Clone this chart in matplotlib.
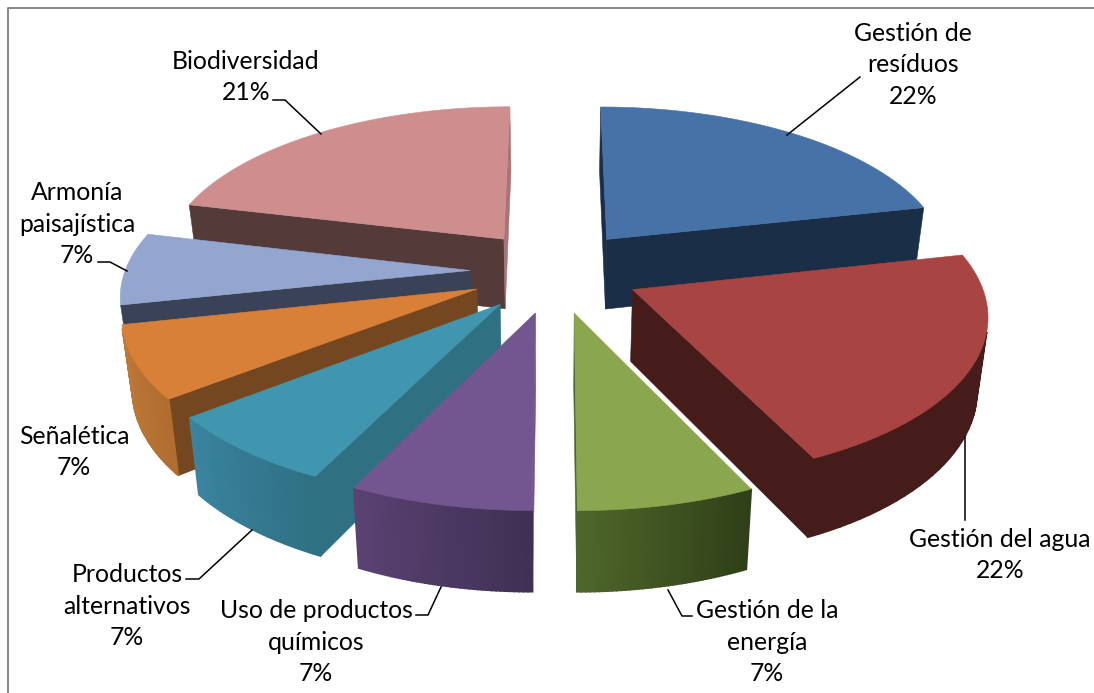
import numpy as np
import matplotlib
matplotlib.use("Agg")
import matplotlib.pyplot as plt
from matplotlib.colors import to_rgb

names = ["Gestión de\nresíduos", "Gestión del agua", "Gestión de la\nenergía",
         "Uso de productos\nquímicos", "Productos\nalternativos", "Señalética",
         "Armonía\npaisajística", "Biodiversidad"]
values = [21.5, 21.5, 7.0, 7.2, 7.2, 7.2, 7.2, 21.2]
top_colors = ["#4672A8", "#A84442", "#8AA64E", "#73558F", "#3F96AE", "#D98038", "#92A6D0", "#CE8E8E"]
cut_start = ["#1A2E47", "#451C1A", "#3A4A20", "#73558F", "#2F7083", "#754720", "#3A4257", "#553A3A"]
cut_end = ["#1A2E47", "#451C1A", "#4E662A", "#8A70A5", "#2F7083", "#754720", "#3A4257", "#A87474"]
wall_a = ["#1A2E47", "#451C1A", "#2F3F18", "#3F3054", "#2F7083", "#B06D30", "#3A4257", "#553A3A"]
wall_b = ["#1A2E47", "#451C1A", "#4E662A", "#5A4272", "#3A84A0", "#C07A37", "#3A4257", "#553A3A"]
label_pos = [(913, 65), (1000, 555), (767, 642), (316, 642), (127, 606), (74, 452), (77, 224), (246, 77)]
leaders = [[(860, 77), (787, 135)],
           [(965, 520), (965, 437)],
           [(692, 616), (682, 616), (668, 590)],
           [(416, 615), (428, 615), (441, 587)],
           [(186, 579), (199, 579), (252, 530)],
           [],
           [(98, 262), (110, 262), (127, 271)],
           [(273, 100), (285, 100), (321, 134)]]

cx, cy, horizon = 555, 271, -900
dist, radius_x, radius_y, explode, height = 2390, 345, 323, 85, 71
draw_order = [7, 0, 6, 5, 1, 4, 3, 2]


def project(x, y, z=0.0):
    s = dist / (dist - y)
    return cx + s * x * (1 - 0.025 * z), horizon + (cy - horizon) * s + z * height * (1 + (s - 1) * 0.7)


def area(pts):
    p = np.array(pts)
    q = np.roll(p, -1, axis=0)
    return np.sum(p[:, 0] * q[:, 1] - q[:, 0] * p[:, 1])


fig = plt.figure(figsize=(10.94, 6.93), dpi=100)
ax = fig.add_axes([0, 0, 1, 1])
ax.set_xlim(0, 1094)
ax.set_ylim(693, 0)
ax.axis("off")

ax.plot([8, 8, 1094], [693, 8, 8], color="#8C8C8C", lw=1.5)

edges = np.cumsum([0] + values) / sum(values) * 2 * np.pi
for i in draw_order:
    t = np.linspace(edges[i], edges[i + 1], 41)
    mid = (edges[i] + edges[i + 1]) / 2
    ox, oy = explode * np.sin(mid), -explode * np.cos(mid)
    rim_x = ox + radius_x * np.sin(t)
    rim_y = oy - radius_y * np.cos(t)
    top = [project(ox, oy)] + [project(a, b) for a, b in zip(rim_x, rim_y)]
    sign = np.sign(area(top))

    def side(p0, p1, color, lw=0.4):
        quad = [project(*p0), project(*p1), project(*p1, 1), project(*p0, 1)]
        if np.sign(area(quad)) != sign:
            ax.fill(*zip(*quad), color=color, lw=lw, zorder=2)

    side((ox, oy), (rim_x[0], rim_y[0]), cut_start[i])
    side((rim_x[-1], rim_y[-1]), (ox, oy), cut_end[i])
    ca, cb = np.array(to_rgb(wall_a[i])), np.array(to_rgb(wall_b[i]))
    for k in range(len(t) - 1):
        f = k / (len(t) - 2)
        side((rim_x[k], rim_y[k]), (rim_x[k + 1], rim_y[k + 1]), ca + (cb - ca) * f, lw=1.2)
    ax.fill(*zip(*top), color=top_colors[i], lw=0.4, zorder=2)

for name, v, pos, leader in zip(names, values, label_pos, leaders):
    ax.text(pos[0], pos[1], f"{name}\n{round(v):d}%", ha="center", va="center",
            fontsize=17.8, family="Lato", color="black", linespacing=1.43, zorder=5)
    if leader:
        ax.plot(*zip(*leader), color="black", lw=1.1, zorder=4)

fig.savefig("out.png", dpi=100)
